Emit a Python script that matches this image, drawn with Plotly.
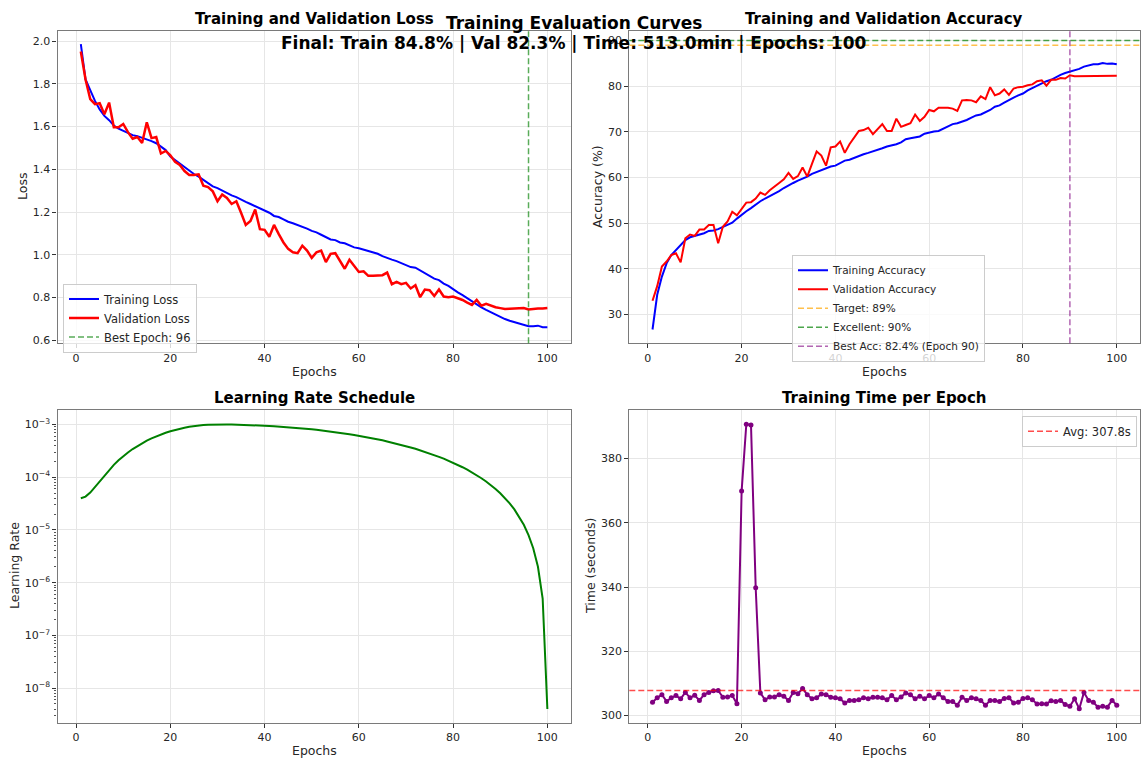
import plotly.graph_objects as go
from plotly.subplots import make_subplots

# ---------------- data ----------------
epochs = list(range(1, 101))

train_loss = [1.985, 1.82, 1.77, 1.72, 1.68, 1.65, 1.63, 1.605, 1.59, 1.58,
              1.57, 1.56, 1.555, 1.548, 1.538, 1.532, 1.522, 1.505, 1.49, 1.46,
              1.443, 1.428, 1.408, 1.392, 1.378, 1.366, 1.35, 1.335, 1.32, 1.312,
              1.30, 1.289, 1.278, 1.27, 1.258, 1.248, 1.238, 1.228, 1.217, 1.205,
              1.197, 1.182, 1.177, 1.166, 1.155, 1.148, 1.14, 1.131, 1.123, 1.112,
              1.105, 1.094, 1.082, 1.072, 1.069, 1.058, 1.054, 1.043, 1.035, 1.031,
              1.025, 1.02, 1.012, 1.005, 0.994, 0.985, 0.978, 0.971, 0.962, 0.951,
              0.943, 0.94, 0.928, 0.915, 0.905, 0.889, 0.882, 0.866, 0.855, 0.838,
              0.825, 0.812, 0.797, 0.782, 0.766, 0.755, 0.743, 0.732, 0.72, 0.709,
              0.70, 0.692, 0.685, 0.677, 0.671, 0.666, 0.666, 0.669, 0.662, 0.662]

val_loss = [1.951, 1.82, 1.728, 1.705, 1.709, 1.658, 1.712, 1.597, 1.597, 1.612,
            1.574, 1.543, 1.551, 1.523, 1.62, 1.546, 1.551, 1.474, 1.486, 1.466,
            1.435, 1.42, 1.392, 1.374, 1.374, 1.377, 1.323, 1.317, 1.297, 1.251,
            1.282, 1.266, 1.238, 1.251, 1.197, 1.14, 1.158, 1.212, 1.12, 1.117,
            1.085, 1.14, 1.097, 1.058, 1.028, 1.012, 1.008, 1.043, 1.02, 0.986,
            1.012, 1.02, 0.966, 1.005, 1.008, 0.974, 0.935, 0.977, 0.951, 0.92,
            0.923, 0.902, 0.902, 0.902, 0.905, 0.917, 0.863, 0.874, 0.863, 0.869,
            0.843, 0.858, 0.802, 0.838, 0.835, 0.808, 0.838, 0.805, 0.802, 0.805,
            0.797, 0.789, 0.777, 0.766, 0.789, 0.762, 0.771, 0.763, 0.755, 0.751,
            0.747, 0.748, 0.749, 0.748, 0.751, 0.745, 0.748, 0.749, 0.749, 0.751]

train_acc = [26.7, 34.3, 38.3, 41.2, 43.0, 44.1, 45.4, 46.3, 46.9, 47.2,
             47.4, 47.8, 48.3, 48.4, 48.7, 49.2, 49.7, 50.1, 51.0, 51.9,
             52.6, 53.3, 54.1, 54.8, 55.4, 55.9, 56.4, 57.0, 57.7, 58.3,
             58.8, 59.3, 59.7, 60.2, 60.8, 61.2, 61.5, 62.0, 62.4, 62.6,
             63.1, 63.7, 63.9, 64.3, 64.8, 65.1, 65.4, 65.7, 66.1, 66.4,
             66.8, 67.0, 67.3, 67.7, 68.4, 68.6, 68.8, 69.0, 69.6, 69.9,
             70.1, 70.2, 70.7, 71.3, 71.7, 71.9, 72.2, 72.6, 73.1, 73.6,
             73.8, 74.3, 74.8, 75.5, 75.8, 76.4, 77.0, 77.5, 78.0, 78.4,
             79.1, 79.6, 80.2, 80.7, 81.1, 81.4, 82.0, 82.5, 82.9, 83.2,
             83.5, 83.8, 84.3, 84.5, 84.8, 84.8, 85.1, 84.9, 85.0, 84.8]

val_acc = [33.0, 36.2, 40.5, 41.6, 43.0, 43.4, 41.4, 46.7, 47.5, 47.2,
           48.6, 48.6, 49.6, 49.6, 45.6, 49.2, 50.4, 52.5, 51.7, 53.2,
           54.5, 54.6, 55.4, 56.7, 56.2, 57.2, 58.1, 58.8, 59.6, 61.0,
           59.7, 60.3, 62.2, 60.2, 63.0, 65.7, 64.8, 62.6, 66.6, 66.8,
           67.9, 65.4, 67.3, 68.8, 70.2, 70.4, 70.9, 69.5, 70.6, 71.7,
           70.2, 70.2, 72.9, 71.1, 71.5, 71.9, 73.8, 72.4, 73.3, 74.8,
           74.5, 75.3, 75.3, 75.3, 75.1, 74.6, 76.9, 77.0, 76.9, 76.5,
           77.8, 77.2, 79.8, 78.0, 78.4, 79.3, 78.1, 79.5, 79.8, 79.9,
           80.2, 80.4, 81.1, 81.3, 80.1, 81.4, 81.4, 81.8, 81.7, 82.4,
           82.2, 82.2, 82.3, 82.3, 82.3, 82.3, 82.3, 82.3, 82.3, 82.3]

learning_rate = [4.0e-5, 4.28e-5, 5.12e-5, 6.52e-5, 8.44e-5, 1.087e-4, 1.379e-4, 1.715e-4, 2.093e-4, 2.506e-4,
                 2.952e-4, 3.424e-4, 3.916e-4, 4.424e-4, 4.94e-4, 5.46e-4, 5.977e-4, 6.485e-4, 6.976e-4, 7.45e-4,
                 7.894e-4, 8.307e-4, 8.684e-4, 9.021e-4, 9.313e-4, 9.557e-4, 9.75e-4, 9.889e-4, 9.972e-4, 1.0e-3,
                 9.995e-4, 9.98e-4, 9.955e-4, 9.92e-4, 9.875e-4, 9.82e-4, 9.755e-4, 9.681e-4, 9.598e-4, 9.505e-4,
                 9.403e-4, 9.292e-4, 9.173e-4, 9.045e-4, 8.909e-4, 8.765e-4, 8.614e-4, 8.455e-4, 8.289e-4, 8.117e-4,
                 7.939e-4, 7.754e-4, 7.565e-4, 7.369e-4, 7.17e-4, 6.966e-4, 6.758e-4, 6.545e-4, 6.33e-4, 6.113e-4,
                 5.894e-4, 5.672e-4, 5.449e-4, 5.225e-4, 5.0e-4, 4.775e-4, 4.551e-4, 4.328e-4, 4.106e-4, 3.887e-4,
                 3.67e-4, 3.455e-4, 3.242e-4, 3.034e-4, 2.83e-4, 2.631e-4, 2.435e-4, 2.246e-4, 2.061e-4, 1.883e-4,
                 1.711e-4, 1.545e-4, 1.386e-4, 1.235e-4, 1.091e-4, 9.55e-5, 8.27e-5, 7.08e-5, 5.97e-5, 4.95e-5,
                 4.02e-5, 3.19e-5, 2.45e-5, 1.8e-5, 1.25e-5, 8.0e-6, 4.5e-6, 2.0e-6, 5.0e-7, 4.0e-9]

epoch_time = [304.1, 305.5, 306.5, 304.4, 305.5, 306.2, 305.2, 307.2, 305.5, 306.3,
              304.7, 306.5, 307.2, 307.7, 307.8, 305.7, 305.8, 306.2, 303.7, 369.9,
              390.7, 390.5, 339.8, 307.0, 304.9, 305.8, 305.8, 306.5, 306.0, 304.7,
              307.2, 306.8, 308.4, 306.5, 305.2, 305.5, 306.7, 306.5, 305.7, 305.5,
              305.2, 303.9, 304.7, 304.7, 304.9, 305.5, 305.2, 305.7, 305.7, 305.5,
              304.9, 306.2, 304.9, 305.8, 307.0, 306.5, 305.2, 306.0, 305.2, 306.2,
              305.5, 306.7, 305.5, 304.4, 304.4, 303.2, 305.7, 304.7, 305.5, 305.2,
              304.7, 303.2, 304.7, 304.7, 304.4, 305.3, 305.5, 303.9, 304.1, 305.3,
              305.5, 304.9, 303.6, 303.7, 303.6, 304.6, 304.4, 304.7, 303.4, 302.9,
              305.2, 302.1, 307.2, 304.7, 304.1, 302.6, 302.9, 302.6, 304.7, 303.2]

best_epoch = 96
target_acc = 89
excellent_acc = 90
best_acc = 82.4
best_acc_epoch = 90
avg_time = 307.8
final_train = 84.8
final_val = 82.3
total_minutes = 513.0
x_ticks = [0, 20, 40, 60, 80, 100]

# ---------------- style ----------------
FONT = "DejaVu Sans"
TXT = "#262626"
FRAME = "#7a7a7a"
GRID = "#e6e6e6"
W, H = 1143, 763

# pixel boxes of the axes: (left, top, right, bottom)
boxes = {
    (1, 1): (57.5, 30.7, 570.7, 345.0),
    (1, 2): (629.3, 30.7, 1140.0, 345.0),
    (2, 1): (57.5, 412.3, 570.7, 726.7),
    (2, 2): (629.3, 412.3, 1140.0, 726.7),
}

fig = make_subplots(rows=2, cols=2)

# Loss
fig.add_trace(go.Scatter(x=epochs, y=train_loss, mode="lines", name="Training Loss",
                         line=dict(color="blue", width=2), legend="legend"), row=1, col=1)
fig.add_trace(go.Scatter(x=epochs, y=val_loss, mode="lines", name="Validation Loss",
                         line=dict(color="red", width=2.5), legend="legend"), row=1, col=1)
fig.add_shape(type="line", x0=best_epoch, x1=best_epoch, y0=0, y1=1, xref="x", yref="y domain",
              line=dict(color="rgba(0,128,0,0.65)", width=1.5, dash="6px,3px"),
              name=f"Best Epoch: {best_epoch}", showlegend=True, legend="legend")

# Accuracy
fig.add_trace(go.Scatter(x=epochs, y=train_acc, mode="lines", name="Training Accuracy",
                         line=dict(color="blue", width=2), legend="legend2"), row=1, col=2)
fig.add_trace(go.Scatter(x=epochs, y=val_acc, mode="lines", name="Validation Accuracy",
                         line=dict(color="red", width=2), legend="legend2"), row=1, col=2)
fig.add_shape(type="line", x0=0, x1=1, y0=target_acc, y1=target_acc, xref="x2 domain", yref="y2",
              line=dict(color="rgba(255,165,0,0.7)", width=1.5, dash="6px,3px"),
              name=f"Target: {target_acc}%", showlegend=True, legend="legend2")
fig.add_shape(type="line", x0=0, x1=1, y0=excellent_acc, y1=excellent_acc, xref="x2 domain", yref="y2",
              line=dict(color="rgba(0,128,0,0.7)", width=1.5, dash="6px,3px"),
              name=f"Excellent: {excellent_acc}%", showlegend=True, legend="legend2")
fig.add_shape(type="line", x0=best_acc_epoch, x1=best_acc_epoch, y0=0, y1=1, xref="x2", yref="y2 domain",
              line=dict(color="rgba(128,0,128,0.6)", width=1.5, dash="6px,3px"),
              name=f"Best Acc: {best_acc}% (Epoch {best_acc_epoch})", showlegend=True, legend="legend2")

# Learning rate
fig.add_trace(go.Scatter(x=epochs, y=learning_rate, mode="lines", name="LR", showlegend=False,
                         line=dict(color="green", width=2)), row=2, col=1)

# Time per epoch
fig.add_trace(go.Scatter(x=epochs, y=epoch_time, mode="lines+markers", name="Time", showlegend=False,
                         line=dict(color="purple", width=2), marker=dict(color="purple", size=5)),
              row=2, col=2)
fig.add_shape(type="line", x0=0, x1=1, y0=avg_time, y1=avg_time, xref="x4 domain", yref="y4",
              line=dict(color="rgba(255,0,0,0.7)", width=1.5, dash="6px,3px"),
              name=f"Avg: {avg_time}s", showlegend=True, legend="legend3")

axis_common = dict(showline=True, mirror=True, linecolor=FRAME, linewidth=1.3,
                   ticks="outside", ticklen=4, tickcolor="#333", tickwidth=1,
                   showgrid=True, gridcolor=GRID, gridwidth=1, zeroline=False,
                   tickfont=dict(family=FONT, size=11, color=TXT))

idx = {(1, 1): "", (1, 2): "2", (2, 1): "3", (2, 2): "4"}
for key, (l, t, r, b) in boxes.items():
    s = idx[key]
    fig.layout["xaxis" + s].update(domain=[l / W, r / W], range=[-3.95, 104.95],
                                   tickvals=x_ticks, **axis_common)
    fig.layout["yaxis" + s].update(domain=[1 - b / H, 1 - t / H], **axis_common)

fig.layout.yaxis.update(range=[0.587, 2.049], tickvals=[0.6, 0.8, 1.0, 1.2, 1.4, 1.6, 1.8, 2.0],
                        ticktext=["0.6", "0.8", "1.0", "1.2", "1.4", "1.6", "1.8", "2.0"])
fig.layout.yaxis2.update(range=[23.7, 92.2], tickvals=[30, 40, 50, 60, 70, 80, 90])
lr_major = [1e-8, 1e-7, 1e-6, 1e-5, 1e-4, 1e-3]
lr_minor = [k * 10.0 ** e for e in range(-9, -2) for k in range(2, 10)]
fig.layout.yaxis3.update(type="log", range=[-8.66, -2.728], tickvals=lr_major,
                         ticktext=["10<sup>\u22128</sup>", "10<sup>\u22127</sup>", "10<sup>\u22126</sup>",
                                   "10<sup>\u22125</sup>", "10<sup>\u22124</sup>", "10<sup>\u22123</sup>"],
                         minor=dict(tickvals=lr_minor, ticks="outside", ticklen=2, tickcolor="#555",
                                    showgrid=False))
fig.layout.yaxis4.update(range=[297.7, 395.1], tickvals=[300, 320, 340, 360, 380])

annots = []
def txt(x, y, text, size, bold=False, angle=0, xanchor="center"):
    annots.append(dict(x=x / W, y=1 - y / H, xref="paper", yref="paper", showarrow=False,
                       text=f"<b>{text}</b>" if bold else text, textangle=angle,
                       xanchor=xanchor, yanchor="middle",
                       font=dict(family=FONT, size=size, color="black" if bold else TXT)))

# subplot titles
txt(314, 19, "Training and Validation Loss", 15, bold=True)
txt(884, 19, "Training and Validation Accuracy", 15, bold=True)
txt(314, 400, "Learning Rate Schedule", 15, bold=True)
txt(884, 400, "Training Time per Epoch", 15, bold=True)
# axis titles
txt(314, 373, "Epochs", 12.5)
txt(884, 373, "Epochs", 12.5)
txt(314, 754, "Epochs", 12.5)
txt(884, 754, "Epochs", 12.5)
txt(22, 188, "Loss", 12.5, angle=-90)
txt(597, 188, "Accuracy (%)", 12.5, angle=-90)
txt(14, 569, "Learning Rate", 12.5, angle=-90)
txt(590, 569, "Time (seconds)", 12.5, angle=-90)
# suptitle
txt(574, 23, "Training Evaluation Curves", 17, bold=True)
txt(574, 43, f"Final: Train {final_train}% | Val {final_val}% | Time: {total_minutes}min | Epochs: {len(epochs)}",
    17, bold=True)

legend_common = dict(bgcolor="rgba(255,255,255,0.8)", bordercolor="#cccccc", borderwidth=1,
                     itemwidth=30, tracegroupgap=0)

fig.update_layout(
    width=W, height=H, autosize=False,
    margin=dict(l=0, r=0, t=0, b=0),
    paper_bgcolor="white", plot_bgcolor="white",
    font=dict(family=FONT, color=TXT),
    annotations=annots,
    legend=dict(x=63 / W, y=1 - 285 / H, xanchor="left", yanchor="top",
                font=dict(family=FONT, size=11.5, color=TXT), **legend_common),
    legend2=dict(x=792 / W, y=1 - 256 / H, xanchor="left", yanchor="top",
                 font=dict(family=FONT, size=10.5, color=TXT), **legend_common),
    legend3=dict(x=1137 / W, y=1 - 418 / H, xanchor="right", yanchor="top",
                 font=dict(family=FONT, size=11.5, color=TXT), **legend_common),
)

fig.write_html("out.html", config={"displayModeBar": False},
               post_script="document.body.style.margin='0';document.body.style.padding='0';")
